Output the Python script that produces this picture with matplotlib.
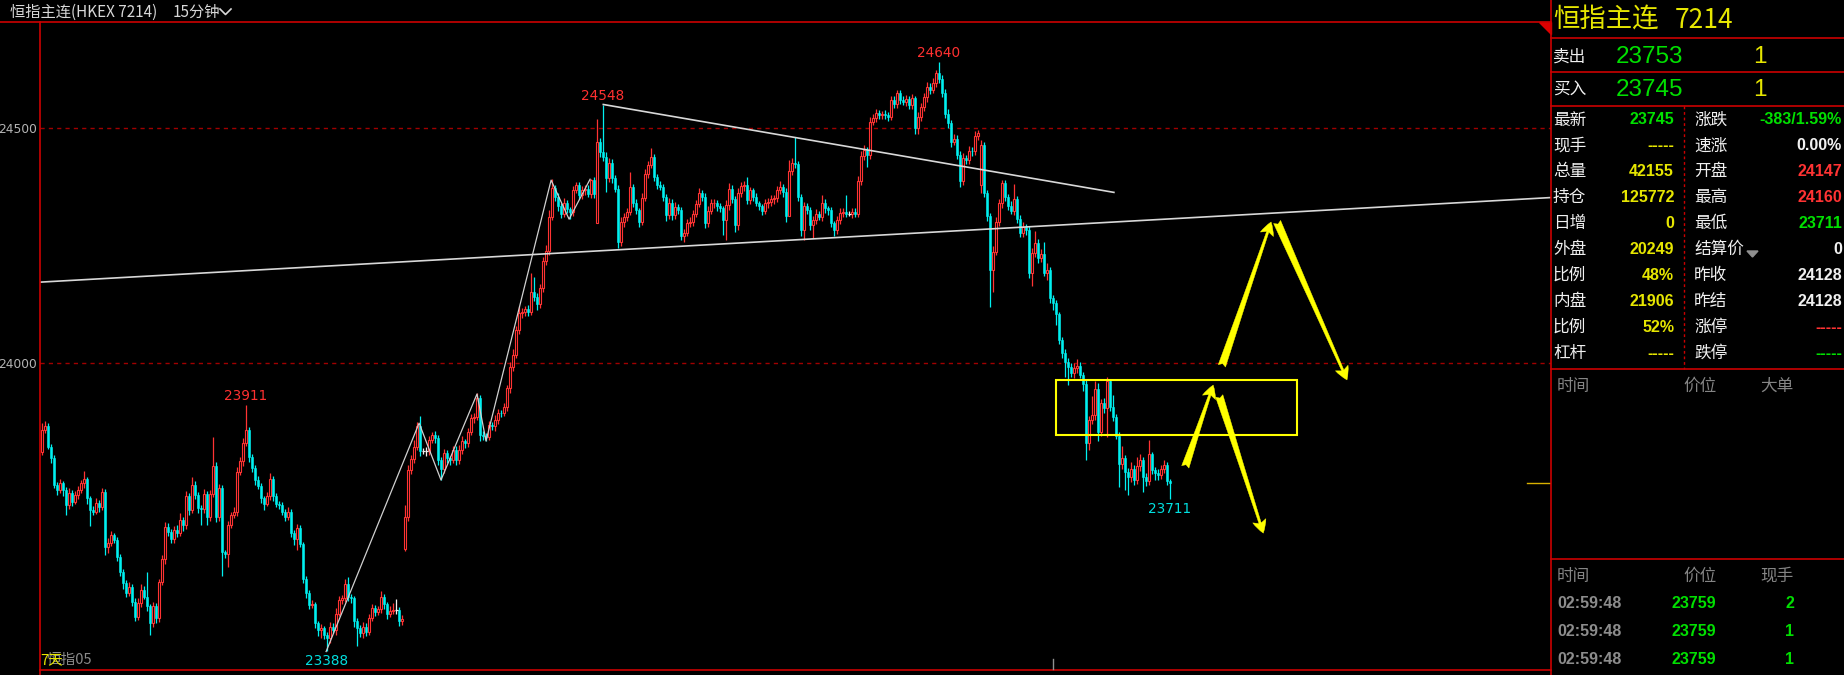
import numpy as np
import matplotlib.pyplot as plt
from matplotlib.patches import Rectangle, FancyArrowPatch, Polygon

plt.rcParams['font.family'] = ['Noto Sans CJK SC', 'DejaVu Sans']

# 15-minute closes (HKEX 7214)
closes = [
    23858, 23866, 23822, 23797, 23740, 23730, 23744, 23730, 23698, 23723,
    23705, 23719, 23730, 23744, 23753, 23712, 23687, 23684, 23703, 23694,
    23726, 23609, 23618, 23634, 23623, 23588, 23556, 23531, 23510, 23524,
    23492, 23460, 23489, 23517, 23503, 23482, 23446, 23482, 23457, 23533,
    23582, 23652, 23641, 23625, 23645, 23638, 23666, 23655, 23716, 23687,
    23740, 23719, 23691, 23689, 23721, 23673, 23721, 23781, 23673, 23733,
    23597, 23594, 23655, 23677, 23684, 23769, 23791, 23829, 23857, 23799,
    23776, 23751, 23738, 23712, 23701, 23716, 23753, 23716, 23701, 23698,
    23684, 23673, 23684, 23638, 23625, 23648, 23615, 23540, 23510, 23485,
    23487, 23446, 23431, 23436, 23421, 23414, 23439, 23432, 23467, 23496,
    23499, 23530, 23503, 23499, 23450, 23436, 23425, 23439, 23428, 23457,
    23478, 23471, 23476, 23503, 23487, 23467, 23473, 23475, 23475, 23450,
    23455, 23673, 23772, 23795, 23822, 23866, 23812, 23812, 23812, 23836,
    23847, 23840, 23794, 23775, 23808, 23797, 23794, 23815, 23794, 23815,
    23833, 23829, 23854, 23882, 23886, 23925, 23847, 23845, 23843, 23868,
    23865, 23879, 23894, 23893, 23906, 23946, 23992, 24017, 24070, 24106,
    24109, 24114, 24109, 24152, 24141, 24126, 24159, 24216, 24239, 24311,
    24372, 24353, 24334, 24317, 24340, 24327, 24322, 24367, 24378, 24357,
    24367, 24370, 24360, 24389, 24360, 24471, 24449, 24439, 24393, 24425,
    24393, 24371, 24258, 24301, 24311, 24322, 24375, 24341, 24325, 24301,
    24352, 24403, 24421, 24439, 24396, 24379, 24375, 24354, 24315, 24341,
    24315, 24332, 24325, 24270, 24277, 24298, 24301, 24318, 24338, 24361,
    24354, 24297, 24324, 24340, 24341, 24333, 24329, 24304, 24336, 24371,
    24348, 24293, 24361, 24376, 24378, 24347, 24367, 24354, 24340, 24333,
    24324, 24340, 24343, 24348, 24350, 24367, 24375, 24364, 24313, 24409,
    24426, 24423, 24354, 24283, 24333, 24325, 24294, 24304, 24318, 24311,
    24340, 24329, 24325, 24297, 24283, 24304, 24320, 24322, 24318, 24318,
    24322, 24318, 24388, 24440, 24454, 24442, 24513, 24522, 24532, 24528,
    24530, 24527, 24524, 24559, 24552, 24574, 24559, 24556, 24561, 24549,
    24563, 24499, 24524, 24545, 24565, 24588, 24581, 24595, 24618, 24605,
    24575, 24530, 24511, 24471, 24476, 24443, 24388, 24436, 24432, 24452,
    24450, 24483, 24490, 24464, 24361, 24313, 24197, 24237, 24301, 24340,
    24382, 24353, 24334, 24324, 24348, 24306, 24277, 24289, 24282, 24192,
    24233, 24255, 24223, 24232, 24192, 24198, 24138, 24127, 24104, 24049,
    24021, 24003, 23992, 23978, 23989, 23994, 23975, 23956, 23829, 23879,
    23889, 23944, 23854, 23914, 23904, 23962, 23906, 23886, 23845, 23785,
    23797, 23769, 23757, 23774, 23750, 23781, 23794, 23758, 23748, 23806,
    23772, 23765, 23762, 23774, 23783, 23748, 23745,
]
first_open = 23811
gap_opens = {121: 23604, 185: 24298, 313: 24379}

# wick lengths above / below the body, in points
wick_up = [
    14, 10, 6, 5, 8, 6, 9, 5, 7, 10,
    6, 8, 9, 7, 18, 5, 6, 8, 9, 5,
    7, 6, 9, 8, 5, 7, 6, 5, 8, 9,
    6, 7, 10, 12, 8, 53, 6, 9, 7, 8,
    10, 9, 7, 6, 8, 10, 14, 6, 12, 7,
    17, 8, 6, 7, 11, 6, 9, 62, 8, 10,
    7, 6, 8, 7, 9, 10, 8, 12, 54, 6,
    8, 6, 9, 7, 5, 10, 12, 6, 8, 5,
    7, 6, 10, 5, 6, 9, 8, 5, 6, 7,
    8, 5, 6, 9, 5, 6, 10, 8, 12, 9,
    8, 11, 15, 6, 5, 7, 6, 9, 8, 10,
    9, 7, 8, 12, 6, 5, 9, 14, 22, 6,
    8, 25, 12, 10, 14, 8, 21, 8, 10, 9,
    7, 8, 6, 5, 10, 7, 6, 9, 8, 10,
    12, 6, 8, 10, 7, 11, 6, 8, 7, 9,
    6, 10, 8, 7, 9, 8, 10, 12, 9, 15,
    8, 7, 10, 39, 32, 8, 10, 9, 12, 14,
    19, 6, 8, 7, 10, 6, 5, 9, 8, 7,
    10, 8, 9, 2, 6, 49, 8, 99, 10, 12,
    8, 6, 7, 10, 9, 8, 32, 6, 7, 5,
    9, 10, 8, 18, 6, 7, 9, 5, 6, 10,
    8, 10, 7, 6, 9, 8, 10, 7, 9, 12,
    6, 8, 10, 9, 7, 6, 8, 5, 10, 11,
    7, 8, 12, 9, 10, 18, 8, 6, 7, 5,
    6, 9, 8, 10, 7, 9, 12, 6, 8, 23,
    10, 55, 7, 6, 10, 8, 7, 9, 10, 6,
    17, 8, 6, 7, 5, 9, 10, 8, 35, 6,
    8, 7, 10, 12, 9, 6, 10, 8, 9, 7,
    6, 8, 7, 10, 8, 7, 6, 9, 10, 8,
    9, 6, 10, 8, 9, 10, 7, 12, 5, 22,
    8, 7, 10, 6, 12, 9, 8, 10, 7, 9,
    8, 10, 6, 10, 6, 8, 7, 12, 10, 9,
    7, 8, 6, 10, 33, 7, 8, 10, 6, 9,
    12, 25, 8, 10, 26, 14, 7, 6, 8, 5,
    6, 8, 7, 9, 10, 14, 8, 6, 9, 8,
    41, 18, 13, 10, 12, 8, 5, 26, 6, 9,
    26, 8, 7, 16, 9, 18, 12, 6, 8, 30,
    4, 7, 9, 10, 11, 7, 6,
]
wick_dn = [
    7, 8, 6, 9, 7, 10, 6, 12, 21, 8,
    9, 6, 8, 7, 10, 12, 34, 8, 6, 10,
    7, 17, 14, 8, 6, 10, 9, 12, 8, 6,
    9, 10, 7, 8, 6, 9, 25, 7, 10, 8,
    6, 9, 10, 8, 7, 9, 6, 12, 8, 10,
    7, 9, 10, 34, 8, 18, 10, 7, 12, 9,
    51, 8, 27, 7, 6, 9, 8, 10, 6, 9,
    8, 10, 7, 9, 14, 6, 8, 10, 7, 9,
    8, 10, 6, 9, 12, 23, 7, 9, 10, 8,
    7, 10, 12, 17, 8, 26, 9, 7, 10, 6,
    8, 7, 10, 9, 12, 39, 8, 10, 9, 7,
    6, 9, 8, 7, 10, 12, 8, 6, 9, 10,
    8, 5, 10, 9, 7, 8, 10, 6, 9, 8,
    7, 10, 12, 23, 8, 9, 10, 7, 11, 8,
    9, 10, 7, 8, 10, 8, 12, 9, 9, 7,
    8, 10, 9, 7, 6, 8, 10, 9, 7, 8,
    10, 8, 9, 7, 10, 13, 8, 9, 7, 10,
    6, 8, 10, 9, 7, 8, 16, 10, 6, 9,
    8, 10, 7, 9, 8, 0, 10, 9, 29, 8,
    10, 7, 14, 9, 12, 8, 7, 10, 9, 12,
    8, 7, 10, 6, 9, 8, 7, 10, 12, 9,
    10, 8, 9, 8, 12, 7, 9, 10, 8, 6,
    9, 10, 8, 7, 10, 9, 8, 32, 42, 10,
    8, 14, 9, 7, 10, 8, 9, 10, 7, 8,
    9, 7, 10, 8, 9, 7, 8, 10, 12, 0,
    9, 8, 10, 12, 21, 8, 10, 29, 9, 7,
    8, 9, 10, 7, 12, 9, 8, 10, 7, 6,
    9, 8, 7, 10, 8, 24, 9, 7, 10, 8,
    9, 7, 10, 8, 9, 10, 7, 8, 10, 9,
    8, 12, 11, 9, 8, 10, 9, 7, 8, 10,
    9, 8, 10, 12, 7, 9, 13, 10, 8, 9,
    10, 8, 9, 18, 8, 10, 77, 45, 8, 9,
    10, 8, 9, 7, 10, 9, 8, 10, 9, 12,
    28, 8, 10, 9, 7, 15, 10, 14, 23, 9,
    10, 32, 39, 8, 9, 10, 7, 15, 35, 15,
    8, 10, 21, 9, 10, 62, 8, 10, 7, 48,
    10, 39, 38, 11, 9, 8, 10, 32, 10, 7,
    9, 15, 10, 8, 9, 8, 34,
]

# marked highs / lows (candle index)
peak_idx = [68, 187, 299]
trough_idx = [95, 376]

# hand-drawn lines (candle index, price)
zz_idx = [94.7, 125.7, 133, 145, 148, 169.7, 175.7, 182.7]
zz_price = [23386, 23872, 23751, 23934, 23834, 24389, 24306, 24391]
res_x = [187.1, 357.3]
res_y = [24550, 24363]
sup_x = [-0.67, 503]
sup_y = [24172, 24352]
box_x = [338, 418.4]
box_y = [23846, 23963]
arr_x0 = [381.1, 392.4, 393.3, 411.7]
arr_y0 = [23779, 23930, 23994, 24300]
arr_x1 = [390.4, 407.1, 409.7, 435.0]
arr_y1 = [23953, 23638, 24300, 23964]
grid_levels = [24000, 24500]

# quote panel
quote_name = '恒指主连'
quote_code = '7214'
ask, ask_vol = '23753', '1'
bid, bid_vol = '23745', '1'
left_labels = ['最新', '现手', '总量', '持仓', '日增', '外盘', '比例', '内盘', '比例', '杠杆']
left_values = ['23745', '-----', '42155', '125772', '0', '20249', '48%', '21906', '52%', '-----']
right_labels = ['涨跌', '速涨', '开盘', '最高', '最低', '结算价', '昨收', '昨结', '涨停', '跌停']
right_values = ['-383/1.59%', '0.00%', '24147', '24160', '23711', '0', '24128', '24128', '-----', '-----']
trade_times = ['02:59:48', '02:59:48', '02:59:48']
trade_prices = ['23759', '23759', '23759']
trade_vols = ['2', '1', '1']

RED = '#ff3333'
CYAN = '#00f0f0'
GREEN = '#00e000'
YELLOW = '#e6e600'
WHITE = '#f0f0f0'
FRAME = '#cc0000'

n = len(closes)
idx = np.arange(n)
c = np.array(closes, dtype=float)
o = np.empty(n)
o[0] = first_open
o[1:] = c[:-1]
for k, v in gap_opens.items():
    o[k] = v
h = np.maximum(o, c) + np.array(wick_up)
l = np.minimum(o, c) - np.array(wick_dn)

W, H = 1844, 675
fig = plt.figure(figsize=(W / 100, H / 100), dpi=100, facecolor='black')
ax = fig.add_axes([40 / W, 1 - 670 / H, (1551 - 40) / W, (670 - 22) / H], facecolor='black')
ax.set_xlim(-0.667, 503)
ax.set_ylim(23346.8, 24725.5)
for s in ax.spines.values():
    s.set_visible(False)
ax.set_xticks([])
ax.set_yticks(grid_levels)
ax.tick_params(axis='y', length=0, pad=2, labelsize=8.8, labelcolor='#b4b4b4')
for lab in ax.get_yticklabels():
    lab.set_fontfamily('DejaVu Sans')
for lvl in grid_levels:
    ax.axhline(lvl, color='#a00000', lw=1, dashes=(3, 3), zorder=1)

# candles
up = c > o
dn = c < o
eq = c == o
ax.vlines(idx[up], l[up], h[up], color=RED, lw=0.9, zorder=2)
ax.vlines(idx[dn], l[dn], h[dn], color=CYAN, lw=0.9, zorder=2)
ax.vlines(idx[eq], l[eq], h[eq], color=WHITE, lw=0.9, zorder=2)
ax.bar(idx[up], (c - o)[up], bottom=o[up], width=0.72, facecolor='black', edgecolor=RED, lw=0.8, zorder=3)
ax.bar(idx[dn], (o - c)[dn], bottom=c[dn], width=0.72, color=CYAN, edgecolor=CYAN, lw=0.4, zorder=3)
ax.hlines(c[eq], idx[eq] - 0.5, idx[eq] + 0.5, color=WHITE, lw=0.9, zorder=3)

# current price marker
ax.plot([495, 503], [c[-1], c[-1]], color='#d8b000', lw=1, zorder=4)

# drawings
ax.plot(zz_idx, zz_price, color='#d0d0d0', lw=0.9, zorder=4)
ax.plot(res_x, res_y, color='#d8d8d8', lw=1.2, zorder=4)
ax.plot(sup_x, sup_y, color='#d8d8d8', lw=1.2, zorder=4)
ax.add_patch(Rectangle((box_x[0], box_y[0]), box_x[1] - box_x[0], box_y[1] - box_y[0],
                       fill=False, edgecolor='#ffff00', lw=1.5, zorder=5))
for x0, y0, x1, y1 in zip(arr_x0, arr_y0, arr_x1, arr_y1):
    ax.add_patch(FancyArrowPatch((x0, y0), (x1, y1),
                                 arrowstyle='fancy,head_length=0.85,head_width=0.9,tail_width=0.5',
                                 mutation_scale=11, fc='#ffff00', ec='#ffff00', lw=0.3,
                                 shrinkA=0, shrinkB=0, zorder=5))

for k in peak_idx:
    ax.annotate(f'{h[k]:.0f}', (k, h[k]), xytext=(0, 6.5), textcoords='offset points',
                ha='center', va='center', color='#ff3030', fontsize=9.8, family='DejaVu Sans')
for k in trough_idx:
    ax.annotate(f'{l[k]:.0f}', (k, l[k]), xytext=(0, -7.5), textcoords='offset points',
                ha='center', va='center', color='#00e0e0', fontsize=9.8, family='DejaVu Sans')

# overlay in pixel coordinates for frame and quote panel
ov = fig.add_axes([0, 0, 1, 1])
ov.set_xlim(0, W)
ov.set_ylim(H, 0)
ov.axis('off')
ov.patch.set_alpha(0)

ov.plot([0, 1551], [22, 22], color=FRAME, lw=1.2)
ov.plot([40, 40], [22, H], color=FRAME, lw=1.2)
ov.plot([40, 1551], [670, 670], color=FRAME, lw=1.2)
ov.plot([1551, 1551], [0, H], color=FRAME, lw=1.2)
ov.add_patch(Polygon([(1539, 22), (1551, 22), (1551, 34)], closed=True, color='#dd0000'))
ov.plot([1053, 1053], [659, 669], color='#909090', lw=1)

ov.text(10, 12, '恒指主连(HKEX 7214)', color='#d8d8d8', fontsize=11, va='center', ha='left')
ov.text(173, 12, '15分钟', color='#d8d8d8', fontsize=11, va='center', ha='left')
ov.plot([220, 225.5, 231], [9, 14.5, 9], color='#d8d8d8', lw=1.2)
# the platform draws the period tag on top of the contract name here
ov.text(47, 660, '恒指05', color='#8a8a8a', fontsize=10.5, va='center', ha='left')
ov.text(40, 660, '7天', color='#e6e600', fontsize=10.5, va='center', ha='left')

# panel frame
for yy in [38, 72, 106, 369, 559]:
    ov.plot([1551, W], [yy, yy], color=FRAME, lw=1.2)
ov.plot([1684, 1684], [106, 369], color=FRAME, lw=1, dashes=(2, 2))

ov.text(1553, 20.5, quote_name, color=YELLOW, fontsize=19, va='center', ha='left')
ov.text(1675, 20.5, quote_code, color=YELLOW, fontsize=19, va='center', ha='left')

for yy, lab, price, vol in [(57, '卖出', ask, ask_vol), (90, '买入', bid, bid_vol)]:
    ov.text(1553, yy, lab, color=WHITE, fontsize=12, va='center', ha='left')
    ov.text(1683, yy, price, color=GREEN, fontsize=17.5, va='center', ha='right', family='Liberation Sans')
    ov.text(1767, yy, vol, color=YELLOW, fontsize=17.5, va='center', ha='right', family='Liberation Sans')

left_colors = [GREEN] + [YELLOW] * 9
right_colors = [GREEN, WHITE, RED, RED, GREEN, WHITE, WHITE, WHITE, RED, GREEN]
for r in range(10):
    yy = 120 + r * 25.9
    ov.text(1553, yy, left_labels[r], color=WHITE, fontsize=12, va='center', ha='left')
    ov.text(1674, yy, left_values[r], color=left_colors[r], fontsize=11.5, fontweight='bold',
            va='center', ha='right', family='Liberation Sans')
    ov.text(1694, yy, right_labels[r], color=WHITE, fontsize=12, va='center', ha='left')
    ov.text(1842, yy, right_values[r], color=right_colors[r], fontsize=11.5, fontweight='bold',
            va='center', ha='right', family='Liberation Sans')
ov.add_patch(Polygon([(1747, 251), (1758, 251), (1752.5, 257)], closed=True, color='#909090'))

for yy, hdr in [(386, ['时间', '价位', '大单']), (576, ['时间', '价位', '现手'])]:
    for xx, t in zip([1557, 1683, 1760], hdr):
        ov.text(xx, yy, t, color='#858585', fontsize=12, va='center', ha='left')

for r in range(3):
    yy = 603 + r * 28
    ov.text(1557, yy, trade_times[r], color='#8c8c8c', fontsize=11.5, fontweight='bold',
            va='center', ha='left', family='Liberation Sans')
    ov.text(1716, yy, trade_prices[r], color=GREEN, fontsize=11.5, fontweight='bold',
            va='center', ha='right', family='Liberation Sans')
    ov.text(1794, yy, trade_vols[r], color=GREEN, fontsize=11.5, fontweight='bold',
            va='center', ha='right', family='Liberation Sans')

fig.savefig('out.png', dpi=100, facecolor='black')
